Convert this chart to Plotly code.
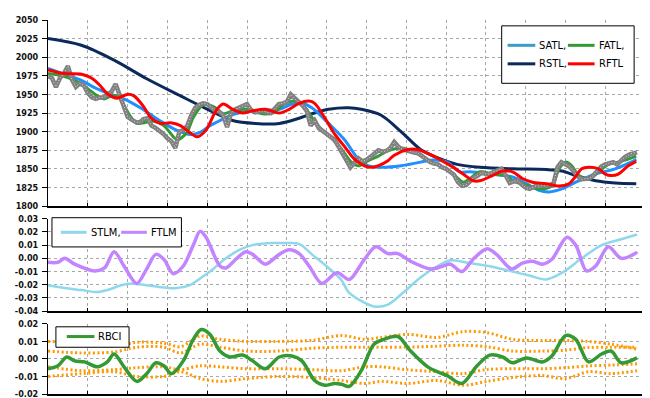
import plotly.graph_objects as go

# ---------------- data ----------------
IDX = list(range(149))
PRICE = [1975,1972,1960,1972,1978,1988,1970,1960,1965,1962,
         1952,1946,1944,1946,1946,1950,1954,1964,1948,1936,
         1920,1916,1913,1912,1917,1918,1908,1905,1901,1897,
         1891,1887,1878,1900,1902,1908,1922,1932,1936,1938,
         1937,1933,1928,1927,1922,1906,1925,1930,1932,1934,
         1937,1929,1926,1927,1928,1926,1925,1931,1937,1938,
         1940,1950,1944,1940,1935,1928,1908,1915,1905,1901,
         1897,1893,1889,1880,1871,1863,1852,1858,1864,1860,
         1862,1866,1871,1875,1873,1874,1878,1886,1880,1876,
         1875,1873,1872,1871,1867,1862,1859,1857,1856,1852,
         1850,1846,1842,1832,1827,1828,1834,1838,1841,1845,
         1843,1843,1846,1848,1850,1841,1831,1833,1834,1829,
         1825,1823,1826,1828,1828,1827,1828,1830,1852,1859,
         1856,1853,1847,1840,1836,1836,1837,1841,1848,1853,
         1856,1858,1859,1856,1862,1866,1869,1871,1872]

SATL_X = [0,4.2,8.4,11.7,15.9,19.9,24.1,28.3,32.3,35.8,38.2,40.7,44.0,46.4,51.4,
          58.1,61.3,63.8,66.3,70.5,74.5,78.0,80.5,83.7,88.7,93.6,96.8,100.3,103.5,106.0,
          111.0,116.7,120.2,123.4,125.9,129.1,132.6,137.6,142.5,146.5,147.8]
SATL_Y = [1985,1977,1969,1959,1950,1942,1929,1914,1902,1896,1899,1908,1917,1923,1928,
          1930,1937,1938,1932,1911,1889,1863,1854,1852,1854,1859,1862,1859,1846,1846,
          1843,1839,1830,1821,1819,1823,1832,1843,1850,1859,1863]

FATL_X = [0,4.2,7.4,9.9,12.4,14.2,15.9,17.4,19.1,20.9,22.3,24.1,26.6,29.1,31.5,
          32.5,34.8,36.5,39,41.5,44,46.4,49.7,53.9,56.4,59.6,62.1,64.6,66.3,68.8,
          71.3,73.8,76.2,78,80.5,83,85.4,88.7,91.9,96.1,99.3,101.8,104.3,106,108.5,
          111.7,115.2,116.7,120.2,123.4,126.6,128.4,130.1,131.6,133.4,135.8,138.3,140.8,143.3,145.8,147.8]
FATL_Y = [1978,1974,1967,1958,1948,1944,1948,1948,1935,1919,1911,1912,1914,1908,1893,
          1889,1898,1919,1936,1934,1924,1928,1930,1924,1925,1938,1941,1932,1919,1902,
          1891,1876,1859,1854,1861,1867,1874,1878,1873,1860,1852,1843,1832,1837,1846,
          1843,1841,1834,1828,1823,1827,1850,1859,1854,1841,1836,1846,1856,1859,1863,1867]

RSTL_X = [0,8.4,16.6,24.8,33.3,39.7,46.4,52.1,58.1,63.1,66.3,70.5,75.5,78.7,83.7,
          88.7,93.6,97.8,102.8,108.5,116.7,125.2,129.1,132.6,137.6,142.5,147.8]
RSTL_Y = [2025,2016,1996,1971,1948,1931,1915,1911,1911,1918,1924,1930,1932,1930,1922,
          1900,1876,1865,1856,1852,1850,1849,1847,1841,1834,1831,1830]

RFTL_X = [0,4.2,8.4,10.9,12.9,14.9,17.4,19.9,21.6,24.1,25.8,28.3,30.8,33.3,35.8,
          37.5,39.7,42.2,44,46.4,48.9,51.4,54.6,58.1,60.6,63.1,65.6,67.0,69.5,72.0,
          74.5,77.0,79.5,81.2,82.9,85.4,86.9,90.4,92.9,96.1,99.3,101.8,104.3,106.8,108.5,
          111.7,114.2,116.7,119.2,121.7,125.2,128.4,130.9,132.6,134.1,135.8,138.3,140.0,141.5,143.3,145.8,147.8]
RFTL_Y = [1983,1978,1977,1972,1963,1951,1945,1950,1948,1933,1919,1911,1912,1908,1898,
          1893,1902,1928,1937,1930,1925,1928,1930,1925,1930,1938,1941,1938,1919,1897,
          1880,1863,1854,1852,1854,1861,1868,1876,1876,1869,1860,1852,1843,1834,1834,
          1841,1847,1846,1837,1832,1830,1827,1830,1840,1850,1852,1850,1843,1841,1843,1854,1860]

STLM_X = [0,4.2,8.4,12.4,14.9,18.4,20.9,24.8,29.1,32.3,35.8,38.2,41.5,44.7,48.2,51.4,56.4,
          59.6,63.1,66.3,70.5,73.8,75.5,79.5,81.9,85.4,89.4,93.6,97.8,101.1,106,111,116,120.9,
          125.2,129.1,134.1,139.1,144,148]
STLM_Y = [-0.0204,-0.0225,-0.024,-0.0255,-0.024,-0.0204,-0.019,-0.0204,-0.022,-0.0225,-0.020,
          -0.0153,-0.008,0.0,0.0065,0.010,0.0116,0.0116,0.011,0.003,-0.0073,-0.0167,-0.0255,
          -0.0335,-0.0364,-0.035,-0.0255,-0.0145,-0.006,-0.0015,-0.0036,-0.006,-0.0095,-0.013,
          -0.016,-0.011,0.0,0.010,0.0145,0.018]

FTLM_X = [0,2.5,4.2,6.7,11.7,14.2,16.6,19.1,22.3,24.8,27.1,29.1,31.5,34.0,36.5,38.2,39.7,
          43.2,44.7,47.2,49.7,51.4,54.6,58.1,60.6,63.1,65.6,68.8,72.0,73.0,75.7,79.5,82.4,
          85.4,87.9,91.1,96.1,99.3,101.1,104.0,106.8,110.3,112.7,116.5,119.2,121.7,124.2,
          126.6,130.4,132.6,135.3,137.6,140.8,144.0,147.5,148]
FTLM_Y = [-0.003,-0.003,0.0,-0.0044,-0.0095,-0.0073,0.005,-0.0058,-0.019,-0.008,0.003,-0.0007,
          -0.0116,-0.0058,0.010,0.0204,0.016,-0.0058,-0.0073,-0.0007,0.005,0.003,-0.0044,0.003,
          0.0065,0.0036,-0.0058,-0.019,-0.0116,-0.011,-0.016,-0.0007,0.0087,0.0036,0.0036,
          -0.0022,-0.008,-0.0058,-0.0044,-0.010,-0.0007,0.0073,0.003,-0.008,-0.0036,-0.0022,
          -0.0044,-0.0007,0.016,0.010,-0.0095,-0.0058,0.0087,0.0,0.0036,0.005]

RBCI_X = [0,2.5,4.7,6.7,9.2,12.4,14.9,16.6,19.1,22.3,24.8,27.1,29.1,31.0,34.0,36.5,38.5,
          40.7,43.2,45.7,48.9,51.4,54.6,58.1,61.3,63.8,67.0,69.5,72.0,73.8,75.7,78.7,81.9,
          84.4,87.9,91.1,95.4,97.8,100.3,104.0,107.8,111.0,114.2,116.7,120.2,124.2,126.6,
          130.1,132.6,135.8,139.1,141.5,144.0,148]
RBCI_Y = [-0.0056,-0.0039,0.0011,-0.0011,-0.0017,-0.0045,-0.0017,0.0028,-0.0045,-0.0128,
          -0.0084,-0.0022,-0.0039,-0.0084,-0.0011,0.0112,0.0168,0.014,0.0045,0.0011,0.0022,
          -0.0011,-0.0056,0.0011,0.0017,-0.0011,-0.0123,-0.015,-0.014,-0.0145,-0.0156,-0.0067,
          0.0084,0.0112,0.0128,0.0045,-0.0045,-0.0073,-0.0095,-0.014,-0.0039,0.0022,0.0011,
          -0.0022,0.0006,-0.0017,0.0017,0.0134,0.0112,-0.0017,0.0028,0.0045,-0.0022,0.0006]

BAND_X = [0,8.4,16.6,22.3,29.1,33.3,38.2,43.2,49.7,58.1,66.3,73.8,79.5,83.7,90.4,97.8,
          104.3,110.3,116.7,124.2,130.1,135.8,141.5,148]
BAND1 = [0.010,0.009,0.0073,0.0095,0.009,0.007,0.013,0.0112,0.010,0.010,0.0106,0.0134,
         0.0112,0.0123,0.014,0.0123,0.0156,0.015,0.0112,0.0105,0.0105,0.010,0.0084,0.0056]
BAND2 = [0.0045,0.0034,0.004,0.0067,0.0067,0.0034,0.0084,0.0067,0.0045,0.0045,0.0061,0.0067,
         0.0067,0.0067,0.0067,0.0073,0.0078,0.007,0.0045,0.0045,0.005,0.0065,0.0067,0.0067]
BAND3 = [-0.0045,-0.0067,-0.0061,-0.005,-0.0045,-0.0061,-0.0039,-0.0045,-0.0056,-0.0056,
         -0.0061,-0.0067,-0.0045,-0.0045,-0.0062,-0.0073,-0.0084,-0.006,-0.0056,-0.0056,
         -0.005,-0.004,-0.0035,-0.0028]
BAND4 = [-0.010,-0.0084,-0.0073,-0.010,-0.010,-0.0073,-0.0112,-0.0128,-0.0112,-0.010,
         -0.0106,-0.0123,-0.014,-0.0128,-0.014,-0.0123,-0.015,-0.0128,-0.0106,-0.0095,
         -0.0112,-0.0073,-0.0084,-0.0067]

TOP_TICKS = [1800,1825,1850,1875,1900,1925,1950,1975,2000,2025,2050]
TOP_TEXT = ["1800","1825","1850","1875","1900","1925","1950","1975","2000","2025","2050"]
MID_TICKS = [-0.04,-0.03,-0.02,-0.01,0.0,0.01,0.02,0.03]
MID_TEXT = ["-0.04","-0.03","-0.02","-0.01","0.00","0.01","0.02","0.03"]
BOT_TICKS = [-0.02,-0.01,0.0,0.01,0.02]
BOT_TEXT = ["-0.02","-0.01","0.00","0.01","0.02"]

# ---------------- styling ----------------
FONT = "DejaVu Sans Condensed, Liberation Sans Narrow, sans-serif"
C_SATL = "#1E90FF"
C_FATL = "#339933"
C_RSTL = "#0B2A5B"
C_RFTL = "#FF0000"
C_PRICE = "#808080"
C_STLM = "#8ED8EE"
C_FTLM = "#C384FF"
C_RBCI = "#339933"
C_BAND = "#FF9900"

W, H = 650, 398
ML, MR, MT, MB = 33, 13, 7, 7
PW, PH = W - ML - MR, H - MT - MB

def ypaper(py):
    return (H - MB - py) / PH

def xpaper(px):
    return (px - ML) / PW

fig = go.Figure()

def line(x, y, color, width, xa, ya, shape="spline", dash=None, opacity=1.0):
    ln = dict(color=color, width=width, shape=shape)
    if dash:
        ln["dash"] = dash
    if shape == "spline":
        ln["smoothing"] = 0.9
    fig.add_trace(go.Scatter(x=x, y=y, mode="lines", line=ln, xaxis=xa, yaxis=ya,
                             showlegend=False, hoverinfo="skip", opacity=opacity))

# top panel
line(RSTL_X, RSTL_Y, C_RSTL, 3, "x", "y")
line(SATL_X, SATL_Y, C_SATL, 3, "x", "y")
line(FATL_X, FATL_Y, C_FATL, 3, "x", "y")
line(IDX, PRICE, C_PRICE, 4.5, "x", "y", shape="linear")
line(IDX, PRICE, "white", 1, "x", "y", shape="linear", dash="1px,2px", opacity=0.7)
line(RFTL_X, RFTL_Y, C_RFTL, 3, "x", "y")

# middle panel
line(STLM_X, STLM_Y, C_STLM, 2.5, "x2", "y2")
line(FTLM_X, FTLM_Y, C_FTLM, 3.5, "x2", "y2")

# bottom panel
for b in (BAND1, BAND2, BAND3, BAND4):
    line(BAND_X, b, C_BAND, 3, "x3", "y3", dash="2px,2.5px")
line(RBCI_X, RBCI_Y, C_RBCI, 3.5, "x3", "y3")

GRID = dict(showgrid=True, gridcolor="#a8a8a8", griddash="dot", gridwidth=1, zeroline=False)
xcommon = dict(range=[0, 150], dtick=10, tick0=0, showticklabels=False, showline=True,
               linecolor="black", linewidth=2, ticks="inside", ticklen=3, tickcolor="black", **GRID)
ycommon = dict(showline=True, linecolor="black", linewidth=1, ticks="outside", ticklen=5,
               tickcolor="black", ticklabelstandoff=2,
               tickfont=dict(family=FONT, size=9, color="#111", weight="bold"), **GRID)

d_top = [ypaper(198), 1.0]
d_mid = [ypaper(306), ypaper(211)]
d_bot = [0.0, ypaper(319)]

fig.update_layout(
    width=W, height=H, margin=dict(l=ML, r=MR, t=MT, b=MB),
    paper_bgcolor="white", plot_bgcolor="white",
    font=dict(family=FONT, size=11, color="black"),
    xaxis=dict(domain=[0, 1], anchor="y", **xcommon),
    xaxis2=dict(domain=[0, 1], anchor="y2", **xcommon),
    xaxis3=dict(domain=[0, 1], anchor="y3", **xcommon),
    yaxis=dict(domain=d_top, anchor="x", range=[1800, 2050], tickvals=TOP_TICKS, ticktext=TOP_TEXT, **ycommon),
    yaxis2=dict(domain=d_mid, anchor="x2", range=[-0.04, 0.03], tickvals=MID_TICKS, ticktext=MID_TEXT, **ycommon),
    yaxis3=dict(domain=d_bot, anchor="x3", range=[-0.02, 0.02], tickvals=BOT_TICKS, ticktext=BOT_TEXT, **ycommon),
)

shapes = []
annotations = []

def legend_box(x0, y0, x1, y1):
    shapes.append(dict(type="rect", xref="paper", yref="paper", layer="above",
                       x0=xpaper(x0), x1=xpaper(x1), y0=ypaper(y1), y1=ypaper(y0),
                       line=dict(color="black", width=1), fillcolor="white"))

def legend_item(x0, x1, y, color, text, width=3, dash=None):
    ln = dict(color=color, width=width)
    if dash:
        ln["dash"] = dash
    shapes.append(dict(type="line", xref="paper", yref="paper", layer="above",
                       x0=xpaper(x0), x1=xpaper(x1), y0=ypaper(y), y1=ypaper(y), line=ln))
    annotations.append(dict(xref="paper", yref="paper", x=xpaper(x1 + 2), y=ypaper(y),
                            text=text, showarrow=False, xanchor="left", yanchor="middle",
                            font=dict(family=FONT, size=11, color="black")))

legend_box(492, 13, 626, 72)
legend_item(498, 526, 33, "#3A9BCB", "SATL,")
legend_item(559, 586, 33, C_FATL, "FATL,")
legend_item(498, 526, 52, C_RSTL, "RSTL,")
legend_item(559, 586, 52, C_RFTL, "RFTL")

legend_box(37, 210, 168, 240)
legend_item(46, 72, 225, C_STLM, "STLM,")
legend_item(107, 133, 225, C_FTLM, "FTLM")

legend_box(41, 322, 115, 343)
legend_item(52, 80, 332, C_RBCI, "RBCI")

fig.update_layout(shapes=shapes, annotations=annotations)

fig.write_html("out.html")
